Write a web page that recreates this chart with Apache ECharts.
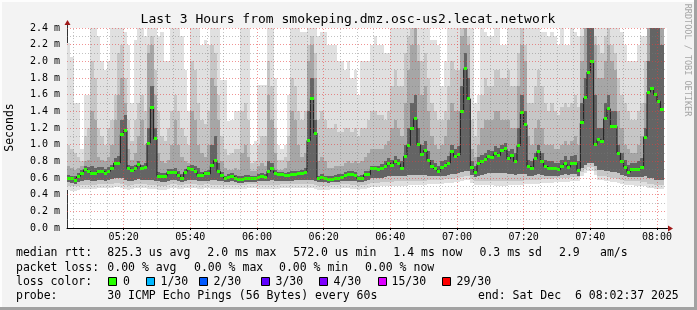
<!DOCTYPE html>
<html>
<head>
<meta charset="utf-8">
<script src="https://cdn.jsdelivr.net/npm/echarts@6/dist/echarts.min.js"></script>
<style>
html,body{margin:0;padding:0;background:#f3f3f3;}
#chart{width:697px;height:310px;}
</style>
</head>
<body>
<div id="chart"></div>
<script>
// ---------------- data ----------------
const titleText = 'Last 3 Hours from smokeping.dmz.osc-us2.lecat.network';
const firstColumn = '05:03';            // start of first 1-minute column
const tickLabels = ['05:20','05:40','06:00','06:20','06:40','07:00','07:20','07:40','08:00'];
const yAxisMax = 2.4;                    // ms
const yLabelUnit = ' m';

// median RTT (ms), one per minute
const median = [
0.60,0.59,0.57,0.62,0.66,0.70,0.68,0.65,0.65,0.68,
0.68,0.66,0.68,0.71,0.78,0.78,1.12,1.17,0.71,0.69,
0.71,0.76,0.71,0.73,1.02,1.45,1.07,0.62,0.62,0.62,
0.67,0.67,0.67,0.63,0.60,0.67,0.71,0.70,0.68,0.63,
0.63,0.66,0.65,0.75,0.81,0.68,0.63,0.59,0.61,0.62,
0.60,0.58,0.58,0.60,0.60,0.59,0.60,0.61,0.62,0.61,
0.68,0.72,0.66,0.64,0.64,0.63,0.63,0.64,0.64,0.65,
0.66,0.67,1.05,1.55,1.14,0.59,0.61,0.59,0.58,0.58,
0.60,0.60,0.61,0.63,0.64,0.64,0.63,0.59,0.60,0.64,
0.64,0.71,0.71,0.70,0.72,0.74,0.78,0.75,0.80,0.77,
0.72,0.86,0.99,1.19,1.31,1.00,0.88,0.93,0.81,0.74,
0.71,0.68,0.73,0.75,0.78,0.92,0.86,0.88,1.40,1.91,
1.55,0.73,0.67,0.77,0.80,0.82,0.86,0.85,0.90,0.87,
0.93,0.95,0.83,0.87,0.80,0.99,1.39,1.24,0.74,0.72,
0.83,0.92,0.80,0.74,0.72,0.71,0.71,0.70,0.74,0.77,
0.73,0.77,0.78,0.69,1.26,1.56,1.87,2.00,1.00,1.06,
1.04,1.31,1.43,1.22,1.22,0.90,0.80,0.73,0.67,0.70,
0.70,0.70,0.73,1.09,1.63,1.68,1.60,1.52,1.42,null
];
// smoke: top of lightest band (max ping)
const smokeTop = [
2.22,2.05,1.5,1.5,0.95,1.6,1.6,2.44,2.44,2.3,
2.0,1.9,2.0,2.44,2.44,2.44,2.44,2.35,2.2,1.5,
2.25,2.44,2.44,2.3,2.44,2.44,2.44,2.3,2.35,2.0,
2.0,2.44,2.44,2.44,2.3,1.9,1.4,2.44,2.44,2.44,
2.2,2.25,2.2,2.44,2.44,2.44,1.78,1.78,1.28,1.3,
1.4,1.4,2.44,2.44,2.4,1.0,1.05,1.72,1.72,1.72,
2.44,2.44,1.8,1.0,0.95,1.0,1.6,2.44,2.44,2.44,
2.35,2.35,2.44,2.44,2.44,2.3,2.35,2.35,2.2,2.2,
2.2,2.0,2.0,1.9,2.0,1.8,1.9,1.6,2.0,2.0,
2.0,2.2,2.3,2.2,2.2,2.1,2.1,2.44,2.44,2.44,
2.44,2.44,2.44,2.44,2.44,2.44,2.44,2.44,2.44,2.25,
2.25,2.2,1.7,2.0,2.44,2.44,2.44,2.44,2.44,2.44,
2.44,2.44,1.5,1.6,2.44,2.35,2.3,2.3,2.44,2.44,
2.2,2.2,2.44,2.44,2.44,2.44,2.44,2.44,2.44,2.44,
2.44,2.44,2.35,2.35,2.3,2.35,2.3,2.2,2.44,2.2,
2.2,2.44,2.35,2.3,2.44,2.44,2.44,2.44,2.44,2.44,
2.44,2.44,2.44,2.44,2.44,2.44,2.35,2.2,2.0,2.0,
2.0,2.2,2.3,2.3,2.44,2.44,2.44,2.44,2.44,null
];
// smoke: top of second band
const smokeHi = [
1.0,0.95,0.9,0.85,0.8,1.1,1.2,2.0,1.8,1.2,
1.1,1.0,1.2,1.3,1.6,2.1,2.2,1.8,1.3,1.05,
1.3,1.5,1.6,1.4,2.2,2.3,1.9,1.4,1.1,1.05,
1.2,1.4,1.6,1.4,1.2,1.1,1.0,2.0,1.9,1.5,
1.3,1.25,1.4,2.2,2.1,1.6,1.1,0.95,0.88,0.9,
0.95,0.95,1.4,1.5,1.3,0.78,0.8,1.0,1.1,1.1,
2.0,1.7,1.2,0.82,0.82,0.85,1.1,1.8,1.7,1.4,
1.3,1.4,2.2,2.3,2.1,1.3,1.4,1.3,1.2,1.2,
1.25,1.15,1.15,1.2,1.2,1.15,1.2,1.1,1.2,1.2,
1.3,1.4,1.4,1.35,1.35,1.3,1.4,1.7,1.9,1.7,
1.7,2.1,2.3,2.4,2.4,2.2,2.0,2.1,1.8,1.5,
1.4,1.3,1.3,1.4,1.7,2.0,1.9,1.9,2.4,2.44,
2.3,1.3,1.1,1.4,1.6,1.8,1.7,1.7,1.9,1.9,
1.8,1.8,1.9,1.7,1.7,2.1,2.4,2.2,1.5,1.5,
1.7,1.9,1.7,1.5,1.4,1.5,1.4,1.35,1.45,1.5,
1.45,1.5,1.6,1.45,2.3,2.44,2.44,2.44,2.3,2.2,
2.1,2.3,2.4,2.2,2.1,1.8,1.6,1.5,1.4,1.3,
1.3,1.4,1.5,2.0,2.44,2.44,2.44,2.44,2.44,null
];
// smoke: top of third band
const smokeMid = [
0.75,0.72,0.7,0.72,0.75,0.8,0.82,1.4,1.3,0.85,
0.82,0.8,0.85,1.0,1.3,1.6,1.8,1.5,0.95,0.82,
0.9,1.1,1.3,1.0,2.1,2.2,1.6,0.9,0.8,0.78,
0.82,1.0,1.3,1.0,0.85,0.8,0.78,1.4,1.3,1.0,
0.9,0.85,1.0,1.8,1.7,1.3,0.8,0.72,0.7,0.7,
0.72,0.7,0.9,1.0,0.85,0.68,0.68,0.75,0.78,0.75,
1.6,1.3,0.9,0.7,0.7,0.72,0.8,1.4,1.3,1.0,
0.85,0.9,2.0,2.2,1.8,0.8,0.85,0.8,0.72,0.72,
0.75,0.75,0.75,0.78,0.8,0.78,0.8,0.78,0.8,0.85,
0.9,0.95,0.95,0.95,0.95,1.0,1.05,1.2,1.3,1.2,
1.1,1.5,1.9,2.2,2.44,2.0,1.6,1.7,1.4,1.1,
1.0,0.95,1.0,1.1,1.3,1.5,1.4,1.4,2.3,2.44,
2.2,0.95,0.85,1.0,1.2,1.3,1.3,1.3,1.4,1.4,
1.3,1.3,1.3,1.2,1.2,1.7,2.2,2.0,1.1,1.0,
1.2,1.3,1.2,1.0,1.0,1.0,0.95,0.95,1.0,1.05,
1.0,1.05,1.1,1.0,2.0,2.44,2.44,2.44,2.2,1.8,
1.8,2.0,2.2,2.0,1.9,1.4,1.2,1.0,0.95,0.9,
0.9,1.0,1.1,1.5,2.44,2.44,2.44,2.44,2.44,null
];
// smoke: top of darkest band
const smokeCore = [
0.64,0.63,0.62,0.66,0.7,0.74,0.73,0.75,0.72,0.73,
0.73,0.71,0.73,0.76,0.84,0.86,1.3,1.35,0.76,0.74,
0.76,0.8,0.76,0.78,1.2,1.7,1.2,0.67,0.66,0.66,
0.71,0.71,0.72,0.68,0.65,0.71,0.75,0.76,0.74,0.72,
0.67,0.68,0.7,1.0,1.1,0.78,0.67,0.63,0.65,0.66,
0.64,0.62,0.62,0.64,0.64,0.62,0.63,0.65,0.66,0.65,
0.8,0.78,0.7,0.67,0.67,0.66,0.67,0.68,0.68,0.69,
0.7,0.72,1.4,1.8,1.3,0.63,0.65,0.63,0.62,0.62,
0.64,0.65,0.65,0.67,0.68,0.68,0.67,0.63,0.64,0.68,
0.68,0.75,0.75,0.75,0.77,0.8,0.84,0.82,0.86,0.83,
0.8,1.0,1.2,1.5,1.6,1.2,1.0,1.05,0.92,0.82,
0.78,0.75,0.8,0.82,0.86,1.0,0.95,0.98,1.7,2.1,
1.8,0.8,0.75,0.85,0.88,0.9,0.94,0.93,0.98,0.96,
1.0,1.02,0.92,0.95,0.9,1.2,1.6,1.4,0.82,0.8,
0.9,1.0,0.9,0.82,0.8,0.8,0.78,0.78,0.82,0.86,
0.82,0.86,0.88,0.8,1.5,1.8,2.44,2.44,1.6,1.2,
1.2,1.5,1.6,1.4,1.4,1.0,0.9,0.82,0.76,0.78,
0.78,0.8,0.84,1.2,2.0,2.44,2.44,2.44,2.2,null
];
// smoke: bottom of lightest band (min ping)
const smokeMin = [
0.46,0.45,0.45,0.46,0.47,0.47,0.47,0.47,0.47,0.48,
0.48,0.48,0.48,0.48,0.49,0.49,0.48,0.47,0.46,0.47,
0.48,0.48,0.48,0.48,0.47,0.47,0.47,0.46,0.46,0.46,
0.47,0.48,0.48,0.47,0.47,0.48,0.48,0.48,0.48,0.47,
0.47,0.48,0.48,0.47,0.47,0.47,0.47,0.47,0.47,0.47,
0.47,0.47,0.47,0.47,0.48,0.48,0.48,0.47,0.47,0.47,
0.47,0.47,0.47,0.47,0.48,0.48,0.48,0.48,0.48,0.48,
0.48,0.48,0.48,0.48,0.47,0.46,0.46,0.46,0.46,0.47,
0.47,0.47,0.48,0.48,0.48,0.47,0.47,0.46,0.47,0.47,
0.48,0.49,0.49,0.49,0.5,0.5,0.5,0.5,0.51,0.51,
0.51,0.51,0.52,0.52,0.52,0.52,0.52,0.52,0.53,0.53,
0.53,0.53,0.53,0.54,0.54,0.54,0.55,0.55,0.56,0.58,
0.58,0.54,0.52,0.52,0.52,0.52,0.52,0.52,0.51,0.51,
0.51,0.51,0.52,0.52,0.52,0.52,0.52,0.53,0.53,0.53,
0.53,0.53,0.54,0.54,0.54,0.54,0.55,0.55,0.55,0.55,
0.55,0.56,0.56,0.56,0.62,0.66,0.68,0.68,0.64,0.58,
0.58,0.57,0.56,0.55,0.55,0.54,0.53,0.52,0.52,0.52,
0.51,0.51,0.5,0.5,0.48,0.48,0.47,0.47,0.47,null
];
// smoke: bottom of second band
const smokeLow = [
0.51,0.5,0.5,0.51,0.52,0.52,0.52,0.52,0.52,0.53,
0.53,0.53,0.53,0.53,0.54,0.54,0.53,0.52,0.51,0.52,
0.53,0.53,0.53,0.53,0.52,0.52,0.52,0.51,0.51,0.51,
0.52,0.53,0.53,0.52,0.52,0.53,0.53,0.53,0.53,0.52,
0.52,0.53,0.53,0.52,0.52,0.52,0.52,0.52,0.52,0.52,
0.52,0.52,0.52,0.52,0.53,0.53,0.53,0.52,0.52,0.52,
0.52,0.52,0.52,0.52,0.53,0.53,0.53,0.53,0.53,0.53,
0.53,0.53,0.53,0.53,0.52,0.51,0.51,0.51,0.51,0.52,
0.52,0.52,0.53,0.53,0.53,0.52,0.52,0.51,0.52,0.52,
0.53,0.54,0.54,0.54,0.55,0.55,0.55,0.55,0.56,0.56,
0.56,0.56,0.57,0.57,0.57,0.57,0.57,0.57,0.58,0.58,
0.58,0.58,0.58,0.59,0.59,0.59,0.6,0.6,0.61,0.63,
0.63,0.59,0.57,0.57,0.57,0.57,0.57,0.57,0.56,0.56,
0.56,0.56,0.57,0.57,0.57,0.57,0.57,0.58,0.58,0.58,
0.58,0.58,0.59,0.59,0.59,0.59,0.6,0.6,0.6,0.6,
0.6,0.61,0.61,0.61,0.67,0.71,0.73,0.73,0.69,0.63,
0.63,0.62,0.61,0.6,0.6,0.59,0.58,0.57,0.57,0.57,
0.56,0.56,0.55,0.55,0.53,0.53,0.52,0.52,0.52,null
];
// smoke: bottom of the two darker bands
const smokeCoreLow = [
0.55,0.54,0.53,0.55,0.57,0.58,0.58,0.57,0.57,0.58,
0.58,0.57,0.58,0.59,0.6,0.6,0.6,0.58,0.57,0.57,
0.58,0.59,0.58,0.58,0.58,0.58,0.57,0.56,0.55,0.55,
0.57,0.58,0.58,0.56,0.55,0.57,0.58,0.58,0.58,0.56,
0.56,0.57,0.57,0.58,0.58,0.57,0.56,0.55,0.55,0.56,
0.55,0.54,0.54,0.55,0.55,0.55,0.55,0.56,0.56,0.56,
0.57,0.58,0.57,0.57,0.57,0.57,0.57,0.57,0.58,0.58,
0.58,0.58,0.58,0.58,0.56,0.55,0.55,0.55,0.54,0.55,
0.55,0.55,0.56,0.57,0.57,0.57,0.56,0.55,0.55,0.57,
0.58,0.6,0.6,0.6,0.6,0.61,0.62,0.62,0.63,0.63,
0.62,0.63,0.64,0.64,0.64,0.64,0.64,0.64,0.63,0.62,
0.62,0.62,0.63,0.63,0.64,0.65,0.65,0.66,0.67,0.68,
0.68,0.64,0.61,0.63,0.64,0.65,0.66,0.66,0.66,0.66,
0.66,0.66,0.65,0.65,0.64,0.65,0.65,0.65,0.63,0.63,
0.64,0.65,0.64,0.63,0.63,0.63,0.63,0.63,0.64,0.65,
0.64,0.65,0.65,0.63,0.72,0.76,0.78,0.78,0.74,0.7,
0.7,0.69,0.68,0.67,0.67,0.66,0.64,0.62,0.61,0.61,
0.61,0.61,0.61,0.62,0.6,0.6,0.58,0.58,0.58,null
];

// legend texts
const legendRtt  = ['median rtt:','825.3 us avg','2.0 ms max','572.0 us min','1.4 ms now','0.3 ms sd','2.9','am/s'];
const legendLoss = ['packet loss:','0.00 % avg','0.00 % max','0.00 % min','0.00 % now'];
const lossLabels = ['0','1/30','2/30','3/30','4/30','15/30','29/30'];
const probeTexts = ['probe:','30 ICMP Echo Pings (56 Bytes) every 60s','end: Sat Dec  6 08:02:37 2025'];
const lossColorTitle = 'loss color:';
const creditText = 'RRDTOOL / TOBI OETIKER';
const yAxisName = 'Seconds';

// ---------------- styles & layout ----------------
const MONO = 'DejaVu Sans Mono';
const lossColors = ['#26ff00','#00b8ff','#0059ff','#5e00ff','#7e00ff','#dd00ff','#ff0000'];
const smokeColors = ['#e0e0e0','#c6c6c6','#a6a6a6','#646464'];
const G = {left:67, top:28, width:600, height:200};

function toMin(s){ const p = s.split(':'); return (+p[0])*60 + (+p[1]); }
function fmtMin(v){ const h = Math.floor(v/60), m = Math.round(v%60); return String(h).padStart(2,'0')+':'+String(m).padStart(2,'0'); }

const start = toMin(firstColumn);
const nCols = median.length;
const xMin = start, xMax = start + nCols;
const tickMinutes = tickLabels.map(toMin);

const smokeData = [];
const dashData = [];
const lineData = [];
median.forEach((m, i) => {
  if (m == null) return;
  smokeData.push([start + i, smokeMin[i], smokeTop[i], smokeLow[i], smokeHi[i], smokeCoreLow[i], smokeMid[i], smokeCore[i]]);
  dashData.push([start + i, m]);
  lineData.push([start + i + 0.5, m]);
});

// grid lines (drawn on top of smoke, as rrdtool does)
const gridMarks = [];
for (let m = Math.ceil((xMin + 1) / 5) * 5; m < xMax; m += 5) {
  const major = m % 20 === 0;
  gridMarks.push({xAxis: m, lineStyle: {color: major ? 'rgba(230,60,60,0.55)' : 'rgba(120,120,120,0.45)', width: 1, type: [1, 2]}});
}
for (let v = 1; v <= Math.round(yAxisMax * 10); v++) {
  const major = v % 2 === 0;
  gridMarks.push({yAxis: v / 10, lineStyle: {color: major ? 'rgba(230,60,60,0.55)' : 'rgba(120,120,120,0.45)', width: 1, type: [1, 2]}});
}

function clampY(v){ return Math.min(v, yAxisMax); }

function renderSmoke(params, api) {
  const k = api.value(0);
  const x0 = Math.round(api.coord([k, 0])[0]);
  const x1 = Math.round(api.coord([k + 1, 0])[0]);
  const bands = [
    [api.value(1), api.value(2), smokeColors[0]],
    [api.value(3), api.value(4), smokeColors[1]],
    [api.value(5), api.value(6), smokeColors[2]],
    [api.value(5), api.value(7), smokeColors[3]]
  ];
  const children = bands.map(b => {
    const yt = Math.round(api.coord([k, clampY(b[1])])[1]);
    const yb = Math.round(api.coord([k, b[0]])[1]);
    return {type: 'rect', shape: {x: x0, y: yt, width: x1 - x0, height: Math.max(0, yb - yt)}, style: {fill: b[2]}};
  });
  return {type: 'group', children};
}

function renderDash(params, api) {
  const k = api.value(0);
  const x0 = Math.round(api.coord([k, 0])[0]);
  const x1 = Math.round(api.coord([k + 1, 0])[0]);
  const y = api.coord([k, api.value(1)])[1];
  return {type: 'rect', shape: {x: x0, y: Math.round(y - 1.5), width: x1 - x0, height: 3}, style: {fill: lossColors[0]}};
}

const chart = echarts.init(document.getElementById('chart'), null, {renderer: 'canvas'});

const legendY = [253.5, 267.8, 281.8, 295.8];
const rttX = [16, 107.3, 207.3, 293.3, 393.3, 479.5, 559, 600];
const lossX = [16, 107.3, 194, 279, 365];
const boxX = [108, 146, 199, 261, 319, 378, 442];
const boxLabelX = [123, 160.5, 213.5, 275.5, 333.5, 391.5, 456.5];
const probeX = [16, 107.3, 478];

const graphics = [];
// frame
graphics.push({type:'rect', shape:{x:0,y:0,width:697,height:2}, style:{fill:'#fdfdfd'}, silent:true});
graphics.push({type:'rect', shape:{x:0,y:0,width:2,height:310}, style:{fill:'#fdfdfd'}, silent:true});
graphics.push({type:'rect', shape:{x:694,y:0,width:3,height:310}, style:{fill:'#a2a2a2'}, silent:true});
graphics.push({type:'rect', shape:{x:0,y:307,width:697,height:3}, style:{fill:'#a2a2a2'}, silent:true});
// title
graphics.push({type:'text', x:348, y:19.5, style:{text:titleText, font:'13px ' + MONO, fill:'#000', textAlign:'center', textVerticalAlign:'middle'}, silent:true});
// y axis name
graphics.push({type:'text', x:10.5, y:127.5, rotation:Math.PI/2, style:{text:yAxisName, font:'11.5px ' + MONO, fill:'#000', textAlign:'center', textVerticalAlign:'middle'}, silent:true});
// credit
graphics.push({type:'text', x:687.5, y:60, rotation:-Math.PI/2, style:{text:creditText, font:'8.5px ' + MONO, fill:'#a5a5a5', textAlign:'center', textVerticalAlign:'middle'}, silent:true});
// axis extensions and arrows
const pl = G.left, pb = G.top + G.height, pr = G.left + G.width, pt = G.top;
graphics.push({type:'line', shape:{x1:pl+0.5, y1:pt, x2:pl+0.5, y2:pt-4}, style:{stroke:'#333', lineWidth:1}, silent:true});
graphics.push({type:'polygon', shape:{points:[[pl-2.5,pt-3],[pl+3.5,pt-3],[pl+0.5,pt-8]]}, style:{fill:'#a01818'}, silent:true});
graphics.push({type:'line', shape:{x1:pr, y1:pb+0.5, x2:pr+2, y2:pb+0.5}, style:{stroke:'#333', lineWidth:1}, silent:true});
graphics.push({type:'polygon', shape:{points:[[pr+1,pb-2.5],[pr+1,pb+3.5],[pr+6,pb+0.5]]}, style:{fill:'#a01818'}, silent:true});
// legend
const lf = '11.5px ' + MONO;
function txt(t, x, y){ graphics.push({type:'text', x:x, y:y, style:{text:t, font:lf, fill:'#000', textAlign:'left', textVerticalAlign:'middle'}, silent:true}); }
legendRtt.forEach((t, i) => txt(t, rttX[i], legendY[0]));
legendLoss.forEach((t, i) => txt(t, lossX[i], legendY[1]));
txt(lossColorTitle, 16, legendY[2]);
lossLabels.forEach((t, i) => {
  graphics.push({type:'rect', shape:{x:boxX[i]+0.5, y:277.5, width:8, height:8}, style:{fill:lossColors[i], stroke:'#000', lineWidth:1}, silent:true});
  txt(t, boxLabelX[i], legendY[2]);
});
probeTexts.forEach((t, i) => txt(t, probeX[i], legendY[3]));

chart.setOption({
  animation: false,
  backgroundColor: '#f3f3f3',
  grid: {left: G.left, top: G.top, width: G.width, height: G.height, show: true, backgroundColor: '#ffffff', borderWidth: 0, containLabel: false},
  xAxis: {
    type: 'value', min: xMin, max: xMax,
    axisLine: {show: true, onZero: false, lineStyle: {color: '#000', width: 1}},
    axisTick: {show: true, customValues: tickMinutes, length: 2, inside: false, lineStyle: {color: '#000'}},
    splitLine: {show: false},
    axisLabel: {customValues: tickMinutes, formatter: v => fmtMin(v), fontFamily: MONO, fontSize: 10, color: '#000', margin: 4}
  },
  yAxis: {
    type: 'value', min: 0, max: yAxisMax, interval: 0.2,
    axisLine: {show: true, lineStyle: {color: '#333', width: 1}},
    axisTick: {show: false},
    splitLine: {show: false},
    axisLabel: {formatter: v => v.toFixed(1) + yLabelUnit, fontFamily: MONO, fontSize: 10, color: '#000', margin: 7}
  },
  series: [
    {type: 'custom', name: 'smoke', data: smokeData, renderItem: renderSmoke, clip: true, z: 1, silent: true,
     encode: {x: 0, y: [1, 2]}},
    {type: 'line', name: 'grid', data: [[xMin, -1]], showSymbol: false, lineStyle: {opacity: 0}, z: 2, silent: true,
     markLine: {silent: true, symbol: ['none', 'none'], label: {show: false}, animation: false, data: gridMarks}},
    {type: 'line', name: 'median', data: lineData, step: 'middle', showSymbol: false, z: 3, silent: true,
     lineStyle: {color: '#1a1a1a', width: 1}},
    {type: 'custom', name: 'loss', data: dashData, renderItem: renderDash, clip: true, z: 4, silent: true,
     encode: {x: 0, y: 1}}
  ],
  graphic: graphics
});
</script>
</body>
</html>
